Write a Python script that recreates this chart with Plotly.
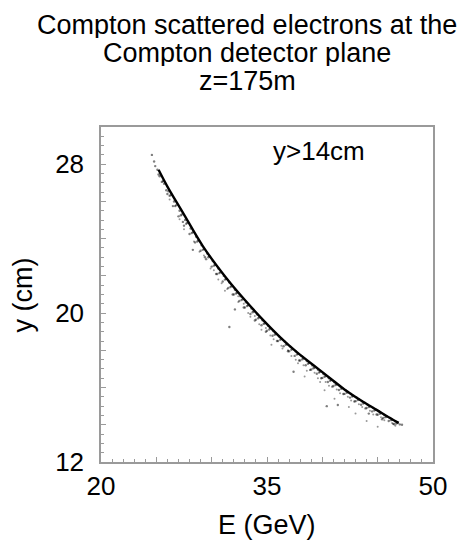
import plotly.graph_objects as go

# main band of the Compton edge
curve_E = [25.2, 26.0, 27.4, 29.2, 31.3, 33.0, 34.7, 36.2, 37.7, 39.2, 40.7, 42.0, 43.5, 44.9, 46.0, 46.9]
curve_y = [27.7, 26.8, 25.4, 23.6, 21.9, 20.7, 19.6, 18.7, 17.9, 17.2, 16.5, 15.9, 15.3, 14.8, 14.4, 14.1]

# scattered electrons hugging the edge from below (one row per ~0.5 GeV)
dots_E = [25.1, 25.3, 25.2, 24.6, 24.8, 24.9,
          25.6, 25.7, 25.5, 25.9,
          26.1, 26.3, 26.2, 26.0,
          26.6, 26.8, 26.7, 26.5,
          27.1, 27.3, 27.2, 27.0, 27.4,
          27.6, 27.8, 27.7, 27.5,
          28.1, 28.3, 28.2, 28.0, 28.3,
          28.6, 28.8, 28.7, 28.5,
          29.1, 29.3, 29.2, 29.0, 29.4,
          29.6, 29.8, 29.7, 29.5,
          30.1, 30.3, 30.2, 30.0, 30.4,
          30.6, 30.8, 30.7, 30.5,
          31.1, 31.3, 31.2, 31.0, 31.6,
          31.6, 31.8, 31.7, 31.5, 31.9,
          32.1, 32.3, 32.2, 32.0, 32.1,
          32.6, 32.8, 32.7, 32.5, 32.9,
          33.1, 33.3, 33.2, 33.0,
          33.6, 33.8, 33.7, 33.5, 33.9,
          34.1, 34.3, 34.2, 34.0,
          34.6, 34.8, 34.7, 34.5, 34.9,
          35.1, 35.3, 35.2, 35.0,
          35.6, 35.8, 35.7, 35.5, 35.9,
          36.1, 36.3, 36.2, 36.0,
          36.6, 36.8, 36.7, 36.5, 36.9,
          37.1, 37.3, 37.2, 37.0, 37.4,
          37.6, 37.8, 37.7, 37.5, 37.9,
          38.1, 38.3, 38.2, 38.0,
          38.6, 38.8, 38.7, 38.5, 38.9,
          39.1, 39.3, 39.2, 39.0,
          39.6, 39.8, 39.7, 39.5, 39.9,
          40.1, 40.3, 40.2, 40.0, 40.4,
          40.6, 40.8, 40.7, 40.5, 40.9,
          41.1, 41.3, 41.2, 41.0, 41.4,
          41.6, 41.8, 41.7, 41.5, 41.9,
          42.1, 42.3, 42.2, 42.0,
          42.6, 42.8, 42.7, 42.5, 42.9,
          43.1, 43.3, 43.2, 43.0,
          43.6, 43.8, 43.7, 43.5, 43.9,
          44.1, 44.3, 44.2, 44.0, 44.2,
          44.6, 44.8, 44.7, 44.5, 44.9,
          45.1, 45.3, 45.2, 45.0, 45.4,
          45.6, 45.8, 45.7, 45.5,
          46.1, 46.3, 46.2, 46.0, 46.4,
          46.6, 46.8, 46.7, 46.5,
          47.0, 47.2]
dots_y = [27.7, 27.35, 27.45, 28.5, 28.15, 27.9,
          27.1, 26.95, 27.05, 26.6,
          26.55, 26.35, 26.3, 26.4,
          26.0, 25.8, 25.75, 25.75,
          25.5, 25.3, 25.25, 25.2, 24.9,
          25.0, 24.85, 24.8, 24.7,
          24.55, 24.35, 24.3, 24.25, 23.4,
          24.1, 23.9, 23.85, 23.8,
          23.65, 23.45, 23.4, 23.35, 23.0,
          23.2, 23.05, 23.0, 22.9,
          22.8, 22.6, 22.55, 22.5, 22.1,
          22.4, 22.2, 22.15, 22.1,
          22.0, 21.85, 21.8, 21.7, 19.25,
          21.65, 21.45, 21.4, 21.35, 21.0,
          21.25, 21.1, 21.05, 21.0, 20.2,
          20.9, 20.75, 20.7, 20.65, 20.3,
          20.58, 20.42, 20.38, 20.3,
          20.25, 20.1, 20.05, 19.95, 19.6,
          19.93, 19.78, 19.72, 19.65,
          19.62, 19.46, 19.42, 19.35, 19.0,
          19.32, 19.18, 19.12, 19.05,
          19.03, 18.9, 18.84, 18.78, 18.5,
          18.75, 18.62, 18.57, 18.5,
          18.47, 18.34, 18.3, 18.22, 17.95,
          18.2, 18.08, 18.03, 17.95, 16.85,
          17.94, 17.82, 17.78, 17.7, 17.45,
          17.69, 17.57, 17.52, 17.45,
          17.43, 17.32, 17.28, 17.2, 16.95,
          17.19, 17.08, 17.04, 16.97,
          16.96, 16.85, 16.81, 16.74, 16.5,
          16.73, 16.62, 16.58, 16.52, 15.0,
          16.5, 16.4, 16.36, 16.3, 16.05,
          16.28, 16.18, 16.14, 16.08, 15.06,
          16.07, 15.97, 15.93, 15.87, 15.65,
          15.86, 15.76, 15.72, 15.66,
          15.66, 15.56, 15.52, 15.46, 15.25,
          15.46, 15.37, 15.33, 15.27,
          15.27, 15.18, 15.14, 15.08, 14.88,
          15.08, 14.99, 14.95, 14.9, 14.6,
          14.9, 14.81, 14.77, 14.72, 14.55,
          14.71, 14.63, 14.59, 14.54, 14.3,
          14.53, 14.45, 14.41, 14.37,
          14.36, 14.28, 14.25, 14.2, 14.05,
          14.18, 14.1, 14.07, 14.03,
          14.02, 14.0]

# looser fringe of dots further below the edge
fringe_E = [26.2, 27.1, 27.5, 28.4, 28.9, 29.3, 29.9, 30.2, 30.9, 30.6, 31.4, 31.2,
            32.4, 32.4, 32.9, 33.3, 33.5, 33.9, 34.3, 34.5, 34.9, 35.3, 35.6, 35.4,
            36.3, 36.4, 36.9, 37.2, 37.6, 37.8, 38.3, 38.6, 38.4, 39.3, 39.6, 39.8,
            40.3, 40.6, 40.2, 41.3, 41.6, 41.1, 42.3, 42.6, 42.4, 43.3, 43.6, 43.0,
            44.3, 44.6, 44.0, 45.3, 45.6, 45.0, 46.3, 46.6]
fringe_y = [26.1, 25.05, 24.5, 23.85, 23.3, 23.1, 22.4, 22.3, 21.6, 21.8, 21.3, 21.2,
            20.6, 20.9, 20.5, 20.0, 19.8, 19.85, 19.4, 19.1, 19.2, 18.8, 18.6, 18.3,
            18.25, 18.1, 18.0, 17.7, 17.5, 17.3, 17.2, 16.9, 16.6, 16.8, 16.5, 16.3,
            16.3, 16.1, 15.85, 15.9, 15.7, 15.4, 15.5, 15.3, 14.95, 15.1, 14.95, 14.6,
            14.75, 14.55, 14.2, 14.4, 14.25, 13.9, 14.1, 13.95]

x_tickvals = [20, 25, 30, 35, 40, 45, 50]
x_ticktext = ["20", "", "", "35", "", "", "50"]
y_tickvals = [12, 14, 16, 18, 20, 22, 24, 26, 28, 30]
y_ticktext = ["12", "", "", "", "20", "", "", "", "28", ""]

title_lines = ["Compton scattered electrons at the", "Compton detector plane", "z=175m"]

FONT = "Liberation Sans, Arial, sans-serif"
AXIS_GREY = "#9a9a9a"

fig = go.Figure()
fig.add_trace(go.Scatter(x=fringe_E, y=fringe_y, mode="markers",
                         marker=dict(size=2, color="rgba(0,0,0,0.4)"),
                         showlegend=False, hoverinfo="skip"))
fig.add_trace(go.Scatter(x=dots_E, y=dots_y, mode="markers",
                         marker=dict(size=2.4, color="rgba(0,0,0,0.5)"),
                         showlegend=False, hoverinfo="skip"))
fig.add_trace(go.Scatter(x=curve_E, y=curve_y, mode="lines",
                         line=dict(color="black", width=2.4, shape="spline"),
                         showlegend=False))

# title lines, placed in paper coordinates above the frame
for line, ypos in zip(title_lines, [1.307, 1.223, 1.140]):
    fig.add_annotation(x=0.44, y=ypos, xref="paper", yref="paper", text=line,
                       showarrow=False, yanchor="middle", height=27,
                       font=dict(family=FONT, size=27, color="black"))

fig.add_annotation(x=39.7, y=28.7, text="y>14cm", showarrow=False,
                   font=dict(family=FONT, size=26, color="black"))
fig.add_annotation(x=0.5, y=-0.188, xref="paper", yref="paper", text="E (GeV)",
                   showarrow=False, yanchor="middle",
                   font=dict(family=FONT, size=27, color="black"))
fig.add_annotation(x=-0.235, y=0.5, xref="paper", yref="paper", text="y (cm)",
                   showarrow=False, textangle=-90, xanchor="center",
                   font=dict(family=FONT, size=27, color="black"))

# page body has an 8px margin, so the frame is shifted by that much
fig.update_layout(
    width=467, height=541,
    margin=dict(l=93, r=42, t=119, b=87),
    paper_bgcolor="white", plot_bgcolor="white",
    font=dict(family=FONT, size=26, color="black"),
)
fig.update_xaxes(range=[20, 50], tickvals=x_tickvals, ticktext=x_ticktext,
                 ticks="inside", ticklen=5, tickcolor=AXIS_GREY,
                 minor=dict(dtick=1, ticks="inside", ticklen=3, tickcolor=AXIS_GREY),
                 showgrid=False, zeroline=False, showline=True, mirror=True,
                 linecolor=AXIS_GREY, linewidth=1.5, ticklabelstandoff=0)
fig.update_yaxes(range=[12, 30], tickvals=y_tickvals, ticktext=y_ticktext,
                 ticks="inside", ticklen=5, tickcolor=AXIS_GREY,
                 minor=dict(dtick=0.5, ticks="inside", ticklen=3, tickcolor=AXIS_GREY),
                 showgrid=False, zeroline=False, showline=True, mirror=True,
                 linecolor=AXIS_GREY, linewidth=1.5, ticklabelstandoff=10)

fig.write_html("out.html")
